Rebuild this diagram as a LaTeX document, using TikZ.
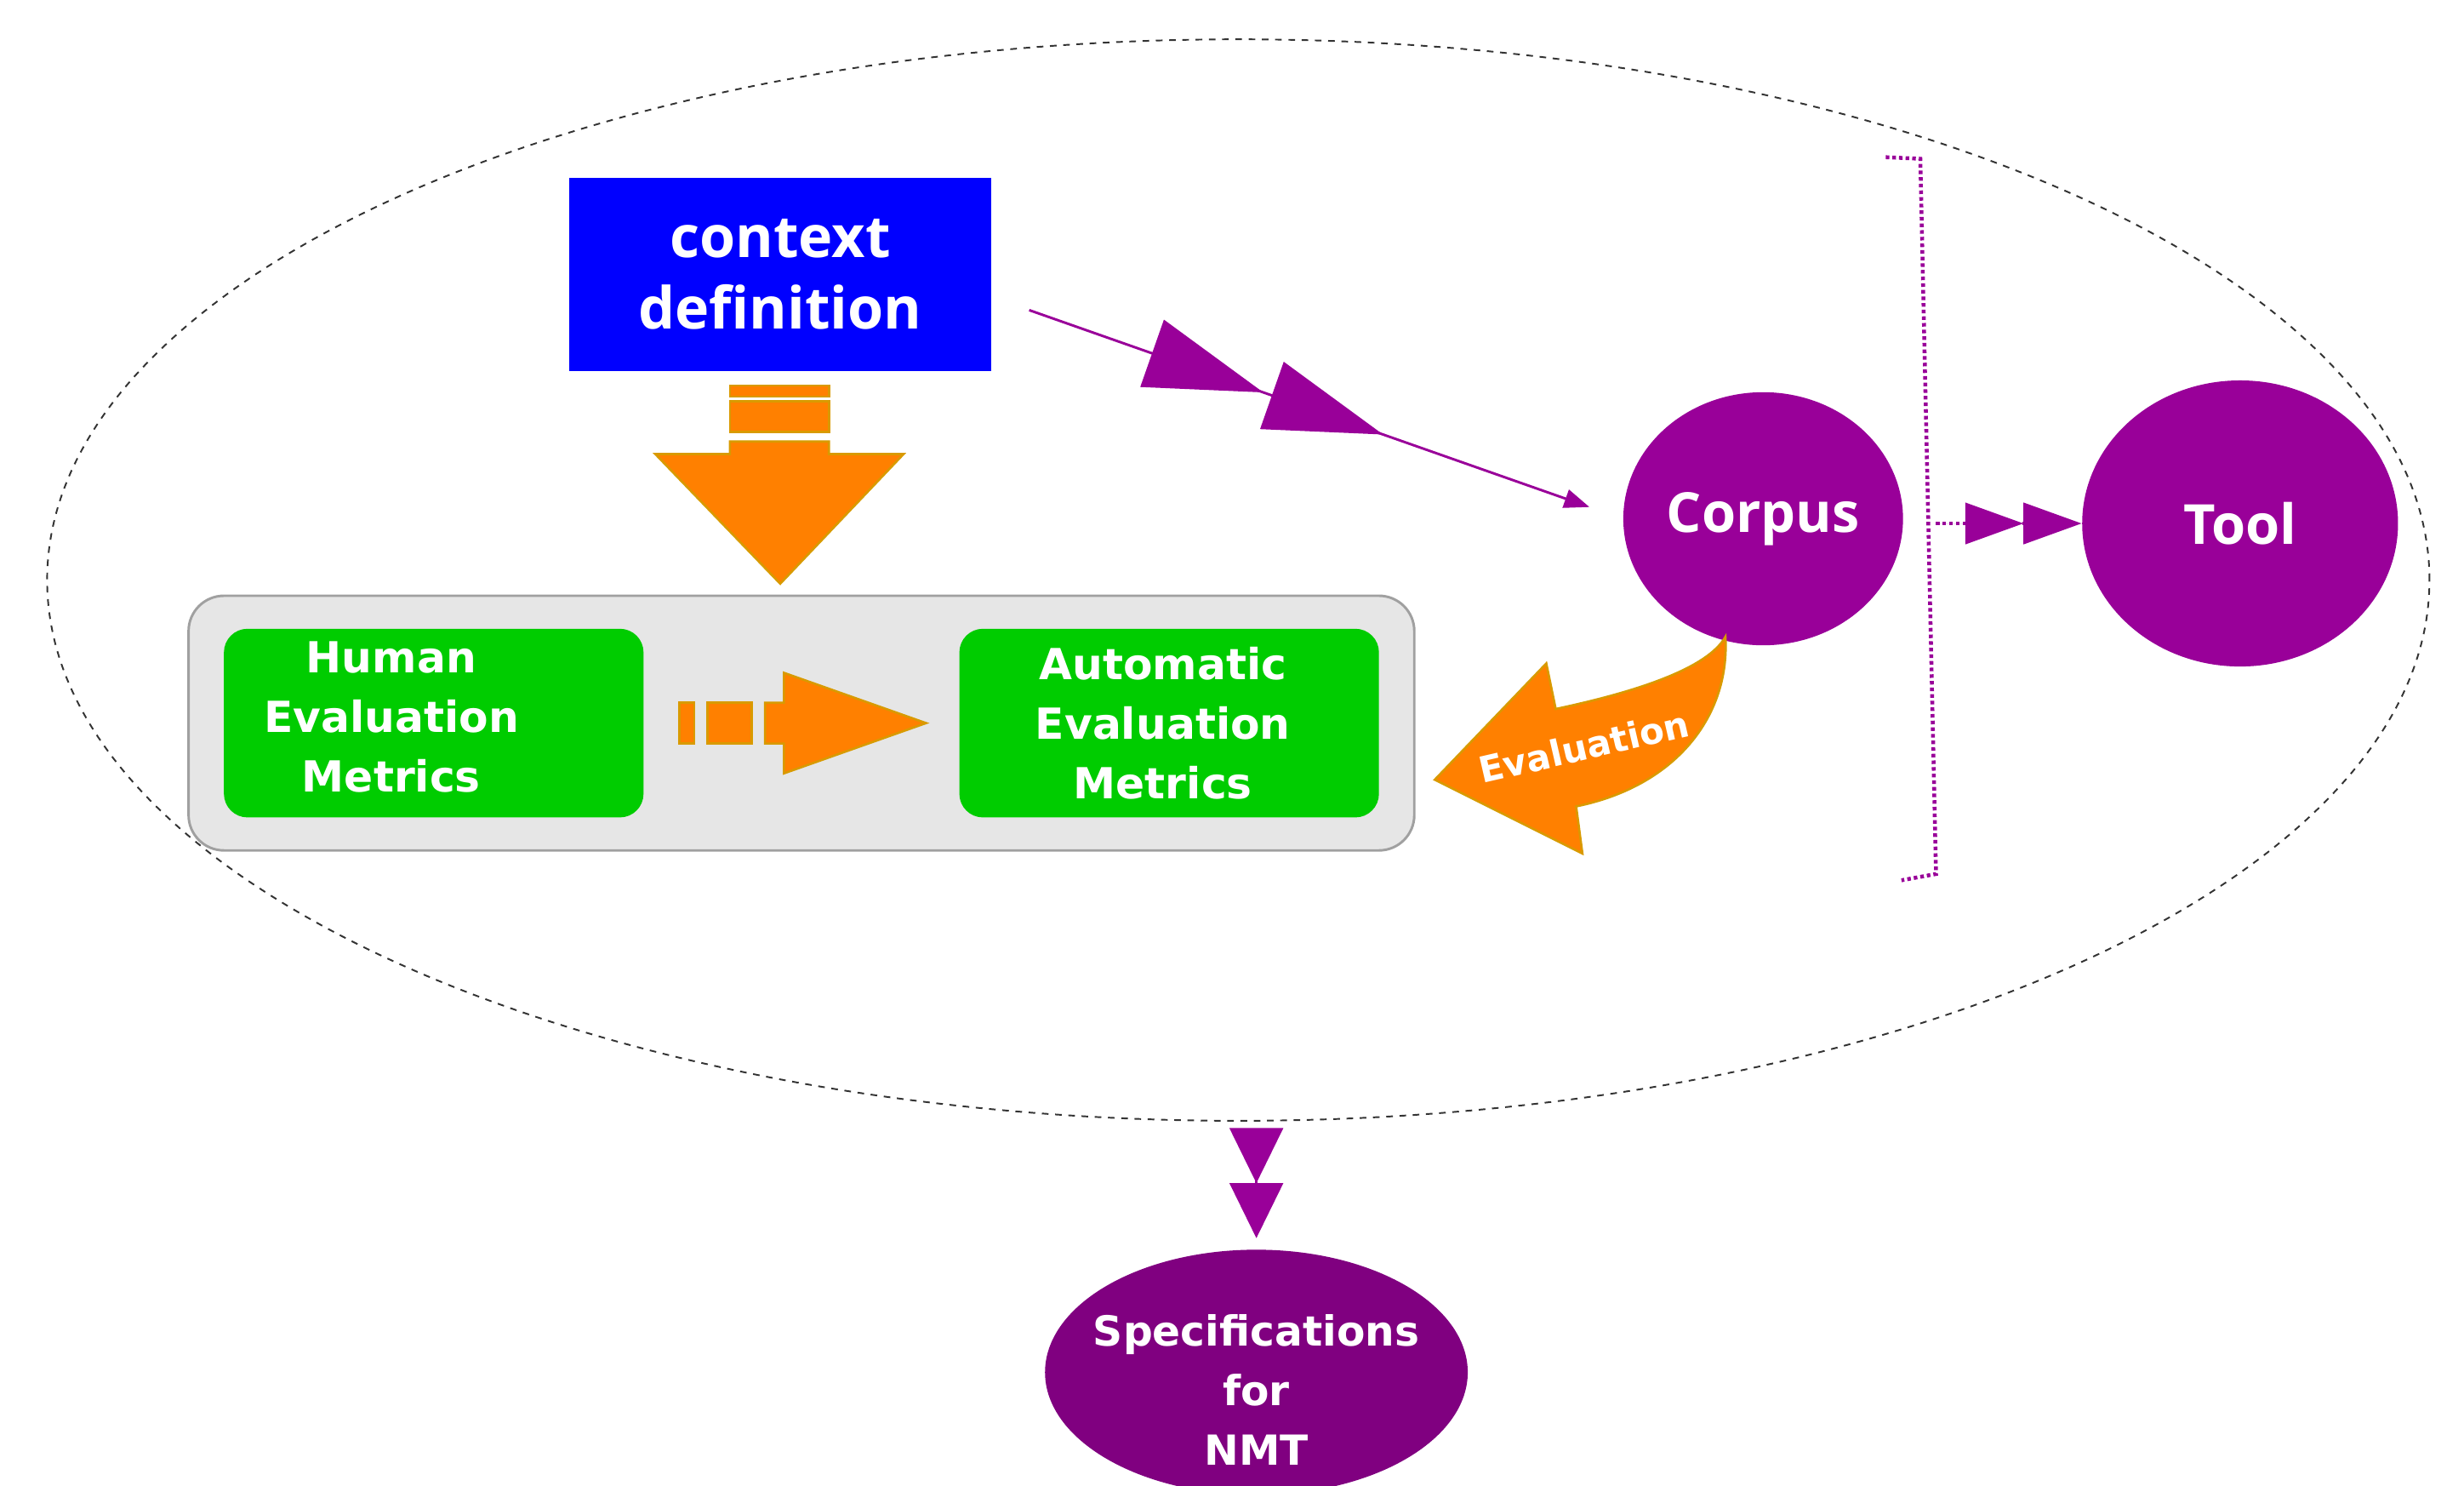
\documentclass[tikz,border=0pt]{standalone}
\usepackage{fontspec}
\setmainfont{DejaVu Sans}
\newfontfamily\headfont{Open Sans}
\usetikzlibrary{arrows.meta,shapes.geometric,decorations.markings,calc}
\definecolor{ctxblue}{HTML}{0000FF}
\definecolor{metgreen}{HTML}{00CC00}
\definecolor{plum}{HTML}{990099}
\definecolor{plumdark}{HTML}{800080}
\definecolor{amber}{HTML}{FF8000}
\definecolor{amberline}{HTML}{D99A00}
\definecolor{panel}{HTML}{E6E6E6}
\definecolor{panelline}{HTML}{A0A0A0}

\begin{document}
\begin{tikzpicture}[
  every node/.append style={text=white},
  ctxbox/.style={fill=ctxblue, align=center, minimum width=5.38cm, minimum height=2.46cm,
    font=\headfont\bfseries\fontsize{21}{26}\selectfont},
  metric/.style={fill=metgreen, rounded corners=0.3cm, minimum width=5.34cm, minimum height=2.4cm},
  metrictext/.style={align=center, font=\bfseries\fontsize{15.5}{21.6}\selectfont},
  blob/.style={ellipse, fill=plum, inner sep=0pt, font=\headfont\bfseries\fontsize{20}{24}\selectfont},
  outcome/.style={ellipse, fill=plumdark, inner sep=0pt},
  outcometext/.style={align=center, font=\bfseries\fontsize{15}{21.6}\selectfont},
  grp/.style={fill=panel, draw=panelline, line width=0.9pt, rounded corners=0.45cm},
  blockarrow/.style={fill=amber, draw=amberline, line width=0.8pt},
  bracketline/.style={draw=plum, line width=1.4pt, dash pattern=on 1.3pt off 1.1pt},
]
\useasboundingbox (0,0) rectangle (31.36,-18.9);
% the whole study
\node[ellipse, draw=black!80, line width=0.6pt, dash pattern=on 2.4pt off 2.4pt,
  minimum width=30.32cm, minimum height=13.76cm] (frame) at (15.76,-7.38) {};
% inputs
\node[ctxbox] (ctx) at (9.93,-3.49) {context\\definition};
\node[grp, minimum width=15.6cm, minimum height=3.24cm] (metrics) at (10.2,-9.2) {};
\node[metric, label={[metrictext, xshift=-0.54cm, yshift=0.08cm]center:{Human\\Evaluation\\Metrics}}]
  (human) at (5.52,-9.2) {};
\node[metric, label={[metrictext, xshift=-0.08cm]center:{Automatic\\Evaluation\\Metrics}}]
  (auto) at (14.88,-9.2) {};
\node[blob, minimum width=3.56cm, minimum height=3.22cm] (corpus) at (22.44,-6.6) {Corpus};
\node[blob, minimum width=4.02cm, minimum height=3.64cm] (tool) at (28.51,-6.66) {Tool};
\node[outcome, minimum width=5.38cm, minimum height=3.12cm,
  label={[outcometext, yshift=-0.22cm]center:{Specifications\\for\\NMT}}] (spec) at (15.99,-17.46) {};
% block arrows
\begin{scope}[shift={(ctx.south)}]
  \filldraw[blockarrow] (-0.64,-0.18) rectangle (0.62,-0.32);
  \filldraw[blockarrow] (-0.64,-0.38) rectangle (0.62,-0.77);
  \filldraw[blockarrow] (-0.64,-0.89) -- (0.62,-0.89) -- (0.62,-1.05) -- (1.57,-1.05)
    -- (0,-2.7) -- (-1.59,-1.05) -- (-0.64,-1.05) -- cycle;
\end{scope}
\begin{scope}[shift={(human.east)}]
  \filldraw[blockarrow] (0.45,-0.26) rectangle (0.64,0.26);
  \filldraw[blockarrow] (0.81,-0.26) rectangle (1.37,0.26);
  \filldraw[blockarrow] (1.54,-0.26) -- (1.78,-0.26) -- (1.78,-0.64) -- (3.59,0)
    -- (1.78,0.64) -- (1.78,0.26) -- (1.54,0.26) -- cycle;
\end{scope}
\begin{scope}[shift={(corpus.center)}]
  \filldraw[blockarrow] (-0.48,-1.5) .. controls (-0.7,-1.9) and (-1.6,-2.2) .. (-2.64,-2.42)
    -- (-2.76,-1.84) -- (-4.18,-3.32) -- (-2.30,-4.26) -- (-2.38,-3.66)
    .. controls (-1.1,-3.4) and (-0.42,-2.5) .. cycle;
  \node[font=\bfseries\fontsize{13}{15}\selectfont, rotate=13] (evlbl) at (-2.28,-2.9) {Evaluation};
\end{scope}
% purple links
\draw[plum, line width=0.9pt, shorten <=0.5cm, shorten >=0.45cm,
  -{Triangle[length=0.32cm,width=0.24cm]},
  postaction={decorate}, decoration={markings,
    mark=at position 0.43 with {\arrow{Triangle[length=1.5cm,width=0.9cm]}},
    mark=at position 0.62 with {\arrow{Triangle[length=1.5cm,width=0.9cm]}}}]
  ([yshift=-0.29cm]ctx.east) -- (corpus.west);
\draw[bracketline] (24.0,-2.0) -- (24.44,-2.02) -- (24.64,-11.12) -- (24.2,-11.2);
\coordinate (brk) at (24.64,-6.66);
\draw[bracketline, fill=plum,
  -{Triangle[length=0.74cm,width=0.52cm,sep=0pt]Triangle[length=0.74cm,width=0.52cm,sep=0pt]}]
  (brk) -- (tool.west);
\draw[plum, line width=0.8pt, shorten <=0.1cm, shorten >=0.14cm,
  -{Triangle[length=0.7cm,width=0.68cm,sep=0pt]Triangle[length=0.7cm,width=0.68cm,sep=0pt]}]
  (spec.north |- frame.south) -- (spec.north);
\end{tikzpicture}
\end{document}
